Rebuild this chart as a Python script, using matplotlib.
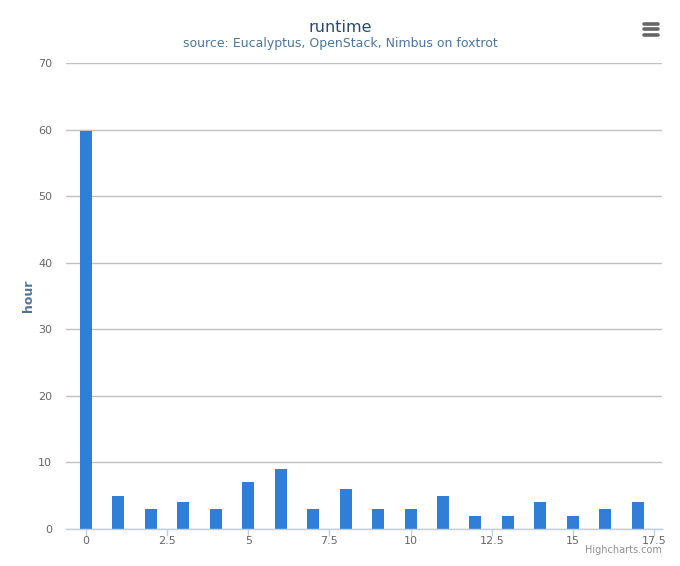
import matplotlib.pyplot as plt
from matplotlib.lines import Line2D
import numpy as np

x_vals = list(range(18))
hours = [59.8, 5, 3, 4, 3, 7, 9, 3, 6, 3, 3, 5, 2, 2, 4, 2, 3, 4]
x_ticks = [0, 2.5, 5, 7.5, 10, 12.5, 15, 17.5]
x_labels = ["0", "2.5", "5", "7.5", "10", "12.5", "15", "17.5"]
y_ticks = [0, 10, 20, 30, 40, 50, 60, 70]

W, H = 680, 566
fig = plt.figure(figsize=(W / 100, H / 100), dpi=100)
ax = fig.add_axes([66 / W, 1 - 529 / H, (662 - 66) / W, (529 - 63) / H])

ax.bar(x_vals, hours, width=0.37, color="#2f7ed8", zorder=3)
ax.set_xlim(-0.616, 17.746)
ax.set_ylim(0, 70)

ax.set_yticks(y_ticks)
ax.set_yticklabels([str(v) for v in y_ticks])
ax.set_xticks(x_ticks)
ax.set_xticklabels(x_labels)
ax.tick_params(axis="y", length=0, pad=10, labelsize=8, labelcolor="#666666")
ax.tick_params(axis="x", length=5, width=1, color="#C0D0E0", pad=0,
               labelsize=8, labelcolor="#666666")
ax.grid(axis="y", color="#C0C0C0", linewidth=1, zorder=0)

for s in ["top", "right", "left"]:
    ax.spines[s].set_visible(False)
ax.spines["bottom"].set_color("#C0D0E0")
ax.spines["bottom"].set_linewidth(1)
ax.spines["bottom"].set_zorder(4)

ax.set_ylabel("hour", color="#4d759e", fontsize=9, fontweight="bold")
ax.yaxis.set_label_coords((35 - 66) / 596, 0.5)

fig.text(0.5, 1 - 27 / H, "runtime", ha="center", va="center",
         fontsize=11.5, color="#274b6d")
fig.text(0.5, 1 - 44 / H, "source: Eucalyptus, OpenStack, Nimbus on foxtrot",
         ha="center", va="center", fontsize=9, color="#4d759e")
fig.text(662 / W, 1 - 550 / H, "Highcharts.com", ha="right", va="center",
         fontsize=7, color="#909090")

# export menu icon
for yy in (23.5, 29, 34.5):
    fig.add_artist(Line2D([644 / W, 658 / W], [1 - yy / H, 1 - yy / H],
                          color="#666666", linewidth=2.6, solid_capstyle="round"))

fig.savefig("out.png", dpi=100)
